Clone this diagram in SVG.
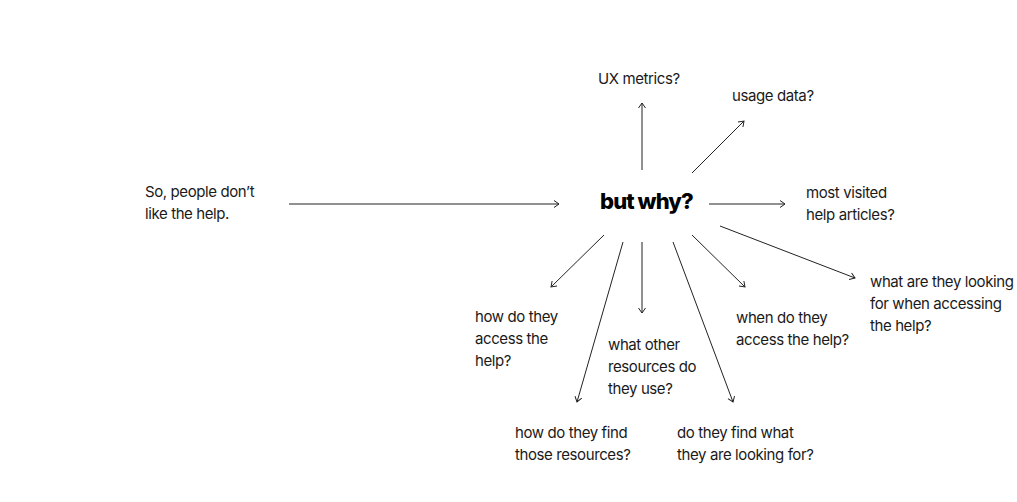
<svg xmlns="http://www.w3.org/2000/svg" width="1017" height="502" viewBox="0 0 1017 502">
<defs>
<style>
.t{font-family:Inter,"Liberation Sans",sans-serif;font-size:15px;fill:#1a1a1a;letter-spacing:-0.4px}
.b{font-family:Inter,"Liberation Sans",sans-serif;font-size:22px;font-weight:800;fill:#000;letter-spacing:-0.9px}
.c line{stroke:#222;stroke-width:1;marker-end:url(#ah)}
</style>
<marker id="ah" markerUnits="userSpaceOnUse" markerWidth="10" markerHeight="10" refX="5" refY="0" viewBox="-1 -5 7 10" orient="auto">
<path d="M0,-3.5 L5,0 L0,3.5" fill="none" stroke="#222" stroke-width="1"/>
</marker>
</defs>
<rect width="1017" height="502" fill="#fff"/>
<g id="connectors" class="c">
<line x1="289" y1="204" x2="559" y2="204"/>
<line x1="642" y1="170" x2="642" y2="103"/>
<line x1="692" y1="173" x2="744" y2="121"/>
<line x1="709" y1="204" x2="785" y2="204"/>
<line x1="720" y1="226" x2="855" y2="278"/>
<line x1="692" y1="235" x2="745" y2="287"/>
<line x1="604" y1="235" x2="551" y2="287"/>
<line x1="642" y1="242" x2="642" y2="313"/>
<line x1="623" y1="242" x2="577" y2="402"/>
<line x1="673" y1="242" x2="733" y2="402"/>
</g>
<g id="start"><text class="t" x="145" y="197">So, people don’t</text><text class="t" x="145" y="219">like the help.</text></g>
<g id="center"><text class="b" x="600" y="209">but why?</text></g>
<g id="ux"><text class="t" x="598" y="84">UX metrics?</text></g>
<g id="usage"><text class="t" x="732" y="101">usage data?</text></g>
<g id="visited"><text class="t" x="806" y="198">most visited</text><text class="t" x="806" y="220">help articles?</text></g>
<g id="lookingfor"><text class="t" x="870" y="287">what are they looking</text><text class="t" x="870" y="309">for when accessing</text><text class="t" x="870" y="331">the help?</text></g>
<g id="when"><text class="t" x="736" y="323">when do they</text><text class="t" x="736" y="345">access the help?</text></g>
<g id="how"><text class="t" x="475" y="322">how do they</text><text class="t" x="475" y="344">access the</text><text class="t" x="475" y="366">help?</text></g>
<g id="other"><text class="t" x="608" y="350">what other</text><text class="t" x="608" y="372">resources do</text><text class="t" x="608" y="394">they use?</text></g>
<g id="find"><text class="t" x="515" y="438">how do they find</text><text class="t" x="515" y="460">those resources?</text></g>
<g id="findwhat"><text class="t" x="677" y="438">do they find what</text><text class="t" x="677" y="460">they are looking for?</text></g>
</svg>
